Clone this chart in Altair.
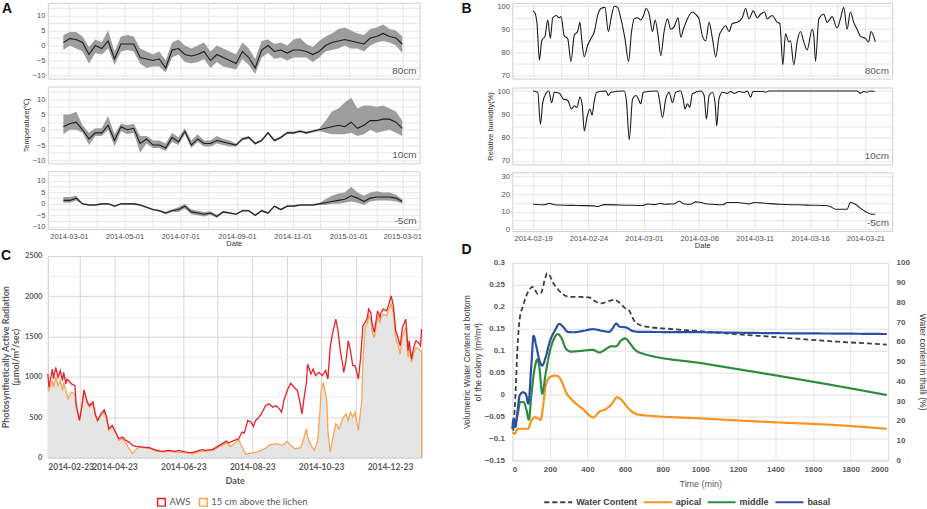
import altair as alt
import pandas as pd

FA = "Liberation Sans"
FC = "Lato"


def dt(y, m, d, h=0):
    return alt.DateTime(year=y, month=m, date=d, hours=h)


# ---------------- Panel A: temperature (weekly samples from 2014-02-23) ----------------
A_START = "2014-02-23"
A1_mean = [1, 2.3, 2, 1, -3, 0, -1, 1.5, -4.5, 0.5, 0.5, 0.5, -4, -4.5, -5, -4.5, -7.5, -1.5, -1, -3,
           -3.5, -3, -2, -5, -3, -4, -5, -6, -2, -4, -7.5, -1.5, 0, -2, -1.5, -2.5, -1.5, -1.5, -2, -3,
           -2, 0, 1, 1.5, 2, 1.5, 1, 0.5, 2.5, 3, 4, 3, 2.5, 0.5]
A1_hi = [3.5, 4.5, 4.5, 3, -0.5, 2, 1, 5, -2, 3, 3.5, 3, -1, -2, -3, -2, -5, 1, 2, 0,
         -1, 0, 1, -2, 0, -1, -2, -3, 1, -1, -4.5, 1.5, 2, 0.5, 1, 0, 2, 2.5, 0.5, -0.5,
         1.5, 3, 4, 5.5, 6, 5, 4, 3.5, 5.5, 6, 7, 5.5, 5, 3]
A1_lo = [-1.5, 0, -1, -2, -6, -2.5, -3, -1, -6.5, -2, -1.5, -2, -6, -7.5, -7, -7, -9, -4, -3, -5.5,
         -6, -5.5, -4.5, -7.5, -5.5, -7, -7.5, -8, -4.5, -6.5, -9.5, -4, -2.5, -4.5, -4, -5, -4, -4, -4, -5.5,
         -4, -2, -1.5, -1, 0, -1, -1, -2, 0, 1, 1.5, 1, 0, -2.5]

A2_mean = [1, 2, 2.5, 0, -3, -1, -1, 1.5, -3.5, 1, 0, 0.5, -4.5, -3, -5, -5, -6, -2.5, -4, -0.5,
           -5, -3, -4.5, -4.5, -3.5, -4, -4.5, -5, -3, -2.5, -4.5, -3.5, -1, -3.5, -2.5, -1, -1, -0.5, -1, -0.5,
           0, 0.5, 1, 1.5, 1, 2.5, 0.5, 1.5, 3, 3, 3.5, 3.5, 2.5, 0.5]
A2_hi = [5, 5, 6, 1.5, -1, 0.5, 0.5, 4.5, -1.5, 2, 1.5, 2, -2, -2, -3.5, -3.5, -4.5, -1, -2.5, 0.5,
         -3.5, -1.5, -3.5, -3.5, -2, -3, -3.5, -4.5, -2.5, -2, -4.1, -3.1, -0.6, -3.1, -2.1, -0.6, -0.6, -0.1, -0.6, -0.1,
         0.4, 3, 6, 7, 9, 10.5, 7, 8, 8, 7.5, 8, 7, 6, 3]
A2_lo = [-1.5, 0, 0, -1, -5, -2, -2, 0, -5.5, -0.5, -1.5, -1, -7.5, -4.5, -6, -6, -7, -4, -5, -1.5,
         -6, -4, -5.5, -5.5, -4.5, -5, -5.5, -5.5, -3.5, -3, -4.9, -3.9, -1.4, -3.9, -2.9, -1.4, -1.4, -0.9, -1.4, -0.9,
         -0.4, -1, -1.5, -1.5, -1.5, -1, -2, -1.5, 0, -1, -0.5, 0, -1, -2]

A3_mean = [1.5, 1.5, 2.5, 0, -0.5, -0.5, 0, 0, -1, 0, 0, 0, -0.5, -1.5, -2.5, -3, -4, -3, -2.5, -1,
           -3.5, -4, -4.5, -4, -5.5, -3.5, -4, -4.5, -3, -3, -5, -3, -4, -1, -2.5, -1, -1, -0.5, -0.5, -0.5,
           0, 0.5, 1, 1.5, 2, 3.5, 2.5, 1, 2.5, 3, 3, 3, 2.5, 1]
A3_hi = [3, 3, 3.5, 0.4, -0.1, -0.1, 0.4, 0.4, -0.6, 0.4, 0.4, 0.4, -0.1, -1.1, -2.1, -2.6, -3.4, -2.4, -1.5, 0,
         -2.5, -3, -3.5, -3.2, -4.8, -3, -3.6, -4.1, -2.6, -2.6, -4.6, -2.6, -3.6, -0.6, -2.1, -0.6, -0.6, -0.1, -0.1, -0.1,
         0.4, 2, 3.5, 4.5, 5, 7.5, 5, 3.5, 5, 5.5, 5, 5, 4, 2]
A3_lo = [0.5, 0.5, 1.5, -0.4, -0.9, -0.9, -0.4, -0.4, -1.4, -0.4, -0.4, -0.4, -0.9, -1.9, -2.9, -3.4, -4.6, -3.6, -3.5, -2,
         -4.5, -5, -5.5, -4.8, -6.2, -4, -4.4, -4.9, -3.4, -3.4, -5.4, -3.4, -4.4, -1.4, -2.9, -1.4, -1.4, -0.9, -0.9, -0.9,
         -0.4, -0.5, 0, 0, 0.5, 1, 0.5, -0.5, 1, 1.5, 1.5, 1.5, 1, 0]

A_LABELS = ["80cm", "10cm", "-5cm"]

# ---------------- Panel B: relative humidity, (days since 2014-02-19, %) ----------------
B_START = "2014-02-19"
B1 = [(0.00, 98), (0.18, 97), (0.36, 92), (0.57, 76.5), (0.78, 85), (1.08, 87), (1.32, 94), (1.56, 86),
      (1.77, 95), (2.07, 96), (2.37, 95), (2.52, 95.5), (2.82, 87), (3.12, 86), (3.42, 76), (3.72, 87.5),
      (4.02, 89), (4.23, 93), (4.38, 86), (4.62, 78), (4.92, 83), (5.23, 86), (5.53, 89), (5.83, 96),
      (6.13, 99), (6.49, 99.5), (6.79, 89), (7.03, 94.5), (7.33, 100), (7.63, 99.5), (7.93, 94.5), (8.29, 86),
      (8.62, 76), (8.89, 89), (9.13, 94.5), (9.43, 95), (9.73, 94), (9.97, 96), (10.21, 99), (10.48, 96.5),
      (10.78, 89), (11.02, 94), (11.29, 87), (11.53, 78.5), (11.83, 89), (12.13, 94.5), (12.43, 90), (12.73, 91),
      (13.09, 95), (13.33, 86.5), (13.57, 90), (13.93, 94.5), (14.38, 97.5), (14.68, 96.5), (14.98, 94.5),
      (15.29, 87), (15.59, 85), (15.89, 93), (16.19, 86), (16.49, 78), (16.79, 87), (17.09, 90), (17.39, 91.5),
      (17.69, 89), (17.99, 92.5), (18.44, 93), (18.89, 95), (19.19, 99), (19.49, 94.5), (19.88, 98), (20.24, 95),
      (20.54, 96.5), (20.90, 97.5), (21.14, 94.5), (21.59, 96), (22.04, 93), (22.28, 92.5), (22.55, 74.5),
      (22.79, 88), (23.09, 84.5), (23.24, 85), (23.54, 74.5), (23.84, 84.5), (24.14, 89), (24.44, 84.5),
      (24.74, 81), (25.20, 90), (25.35, 87), (25.50, 76), (25.80, 94.5), (26.25, 96.5), (26.55, 93), (27.00, 95.5),
      (27.45, 90.5), (27.75, 94.5), (28.05, 99.5), (28.35, 90), (28.65, 97.5), (28.95, 93), (29.25, 90),
      (29.55, 87), (30.00, 86), (30.30, 84.5), (30.51, 89), (30.90, 84.5)]
B2 = [(0, 100), (0.42, 99.5), (0.66, 85.7), (0.87, 95), (1.17, 99), (1.41, 100), (1.68, 95), (1.92, 99.5),
      (2.37, 99), (2.73, 96.6), (3.12, 96), (3.48, 92.3), (3.72, 93.7), (3.96, 93), (4.23, 97.4), (4.44, 93.7),
      (4.62, 82.8), (4.86, 88.6), (5.14, 92.3), (5.32, 89.6), (5.53, 96), (5.74, 99.5), (6.58, 100), (6.79, 98.1),
      (7.03, 99.5), (8.23, 100), (8.44, 95), (8.68, 79.1), (8.98, 96.6), (9.28, 98.1), (9.43, 97.4), (9.73, 94.5),
      (9.94, 99.5), (11.23, 100), (11.44, 95), (11.68, 88.6), (11.98, 96.6), (12.28, 99.5), (12.58, 95),
      (12.88, 99.5), (13.33, 100), (13.54, 96.6), (13.72, 92.3), (13.93, 94.5), (14.14, 93), (14.38, 98.8),
      (15.14, 100), (15.44, 98.1), (15.65, 87.9), (15.89, 98.1), (16.19, 99.5), (16.43, 95), (16.58, 85),
      (16.79, 96.6), (17.09, 99.5), (17.54, 99), (17.84, 99.8), (18.14, 99), (18.59, 99.8), (19.04, 99.4),
      (19.34, 100), (19.64, 97.4), (19.85, 99.8), (20.69, 99.8), (20.99, 99.5), (21.29, 100), (29.25, 100),
      (29.55, 99), (29.85, 99.8), (30.15, 99.5), (30.45, 100), (30.84, 99.8)]
B3 = [(0, 14.2), (1.02, 13.9), (1.47, 14.8), (1.92, 13.9), (4.02, 13.5), (5.53, 13.3), (5.83, 12.9), (6.43, 14),
      (8.53, 13.7), (9.88, 13.5), (10.33, 14.4), (10.93, 14), (11.53, 14.8), (11.83, 14.2), (12.43, 14.4),
      (12.73, 14.4), (13.18, 15.9), (13.63, 14.4), (14.23, 14.2), (14.68, 15.6), (15.14, 15.2), (15.74, 14.4),
      (16.64, 14), (17.09, 13.9), (17.54, 15.2), (18.44, 15.2), (19.04, 14.8), (19.49, 14.4), (19.94, 15.2),
      (20.54, 15), (20.99, 14.8), (22.34, 14.2), (23.84, 13.9), (25.05, 13.7), (26.25, 13.5), (26.85, 12.9),
      (27.30, 11.4), (28.35, 11.4), (28.65, 15.2), (29.10, 14.2), (29.55, 12), (30.00, 10.1), (30.45, 8.7),
      (30.90, 8.5)]

# ---------------- Panel C: PAR (days since 2014-02-23, umol/m2/s) ----------------
C_START = "2014-02-23"
C_AWS = [(0, 1035), (1, 870), (4, 1097), (5, 973), (7, 1118), (9, 994), (11, 1077), (13, 953), (14, 1056),
         (16, 912), (17, 973), (21, 912), (24, 891), (25, 664), (28, 458), (30, 623), (32, 837), (35, 685),
         (37, 644), (40, 685), (42, 540), (44, 458), (47, 540), (50, 590), (52, 499), (54, 355), (57, 396),
         (60, 314), (63, 231), (66, 252), (69, 210), (72, 190), (75, 149), (78, 136), (84, 128), (90, 120),
         (96, 87), (102, 74), (107, 87), (113, 74), (116, 87), (122, 66), (128, 58), (134, 87), (137, 95),
         (140, 87), (146, 99), (152, 149), (158, 202), (160, 177), (165, 210), (169, 231), (172, 314), (174, 301),
         (177, 458), (180, 437), (182, 384), (184, 458), (187, 499), (189, 540), (193, 644), (196, 664), (199, 623),
         (202, 644), (205, 602), (207, 561), (209, 705), (212, 829), (215, 920), (218, 871), (221, 829), (223, 705),
         (225, 540), (227, 747), (229, 932), (230, 1159), (233, 1035), (235, 1097), (237, 1015), (240, 1056),
         (243, 1015), (246, 1077), (248, 973), (250, 1365), (252, 1530), (255, 1716), (257, 1572), (259, 1324),
         (261, 1159), (262, 1056), (264, 1200), (266, 1448), (268, 1324), (270, 1139), (272, 1139), (275, 973),
         (277, 1242), (279, 1634), (281, 1675), (283, 1737), (284, 1840), (286, 1798), (287, 1675), (289, 1551),
         (292, 1819), (294, 1737), (295, 1798), (297, 1840), (300, 1819), (302, 1902), (304, 2005), (306, 1881),
         (308, 1572), (310, 1489), (312, 1386), (314, 1613), (317, 1716), (319, 1324), (320, 1448), (322, 1221),
         (324, 1365), (326, 1448), (328, 1427), (330, 1386), (331, 1592)]
C_LICHEN = [(0, 870), (1, 829), (4, 953), (5, 870), (7, 994), (9, 891), (11, 953), (13, 829), (14, 932),
            (16, 829), (18, 726), (21, 808), (24, 788), (25, 623), (28, 458), (30, 623), (32, 829), (35, 664),
            (37, 623), (40, 664), (42, 520), (44, 450), (47, 520), (50, 561), (52, 478), (54, 334), (57, 396),
            (60, 301), (63, 210), (66, 231), (69, 177), (72, 107), (75, 45), (78, 99), (81, 136), (84, 120),
            (90, 107), (96, 78), (102, 66), (107, 78), (113, 66), (122, 58), (128, 45), (134, 74), (140, 74),
            (146, 87), (152, 136), (158, 177), (162, 136), (165, 169), (169, 219), (172, 128), (175, 37), (181, 54),
            (187, 74), (193, 116), (197, 157), (202, 169), (208, 149), (212, 198), (215, 149), (219, 107), (224, 120),
            (227, 252), (229, 355), (230, 252), (233, 149), (236, 87), (239, 210), (241, 582), (242, 829), (244, 932),
            (247, 705), (248, 334), (250, 66), (252, 210), (255, 417), (258, 355), (261, 478), (264, 540), (266, 458),
            (268, 561), (270, 499), (272, 561), (275, 334), (278, 705), (279, 1200), (281, 1613), (283, 1675),
            (284, 1757), (286, 1716), (287, 1572), (289, 1489), (292, 1737), (294, 1675), (295, 1737), (297, 1778),
            (300, 1757), (302, 1840), (304, 1902), (306, 1798), (308, 1489), (310, 1407), (312, 1283), (314, 1510),
            (317, 1613), (319, 1242), (320, 1365), (322, 1180), (324, 1304), (326, 1365), (328, 1345), (330, 1324),
            (331, 1316), (331, 0)]
C_SERIES = ["AWS", "15 cm above the lichen"]
C_COLORS = ["#e8202a", "#f7a556"]

# ---------------- Panel D: water content (minutes) ----------------
D_WC = [(5, 15), (7, 17.7), (18, 36.2), (27, 56.4), (39, 71.5), (57, 78.3), (74, 83.3), (92, 86.7), (106, 87.9),
        (118, 86.7), (136, 84.2), (154, 85), (171, 90.9), (186, 94.8), (198, 93.8), (216, 90.1), (242, 86.7),
        (269, 84.2), (304, 82.8), (357, 82.8), (410, 82.5), (437, 80.8), (472, 79.5), (516, 80.8), (543, 81.3),
        (569, 80), (596, 77.4), (622, 75.8), (649, 70.7), (675, 68.7), (711, 67.8), (852, 66.5), (1029, 65.2),
        (1206, 63.8), (1383, 62.6), (1559, 61.3), (1736, 60.1), (1913, 59.1), (1993, 58.6)]
D_APICAL = [(0, -0.086), (12, -0.089), (30, -0.078), (57, -0.078), (83, -0.078), (101, -0.059), (118, -0.052),
            (136, -0.054), (150, -0.058), (163, -0.029), (177, 0.02), (198, 0.039), (225, 0.043), (242, 0.042),
            (260, 0.032), (286, 0.005), (322, -0.014), (375, -0.033), (431, -0.052), (463, -0.039), (499, -0.033),
            (530, -0.021), (557, -0.006), (578, -0.011), (605, -0.025), (640, -0.04), (675, -0.046), (1029, -0.055),
            (1383, -0.063), (1736, -0.07), (1993, -0.078)]
D_MIDDLE = [(0, -0.078), (12, -0.07), (27, -0.048), (42, -0.017), (60, -0.017), (74, -0.033), (88, -0.057),
            (101, -0.002), (118, 0.058), (133, 0.08), (145, 0.058), (159, 0.002), (177, 0.047), (198, 0.096),
            (225, 0.13), (242, 0.138), (260, 0.13), (286, 0.104), (313, 0.098), (375, 0.1), (428, 0.102),
            (463, 0.096), (499, 0.104), (525, 0.11), (552, 0.11), (578, 0.123), (601, 0.128), (622, 0.119),
            (649, 0.104), (675, 0.096), (1029, 0.07), (1383, 0.045), (1736, 0.019), (1993, -0.001)]
D_BASAL = [(0, -0.078), (7, -0.055), (16, -0.074), (27, -0.04), (39, -0.002), (57, 0.005), (71, 0.002),
           (85, -0.021), (101, 0.066), (113, 0.134), (127, 0.111), (145, 0.077), (159, 0.066), (177, 0.085),
           (198, 0.119), (225, 0.145), (251, 0.161), (269, 0.155), (295, 0.143), (322, 0.142), (375, 0.145),
           (428, 0.149), (481, 0.145), (516, 0.143), (537, 0.153), (552, 0.162), (569, 0.155), (605, 0.153),
           (640, 0.145), (675, 0.143), (1029, 0.142), (1383, 0.14), (1736, 0.139), (1993, 0.138)]
D_SERIES = ["Water Content", "apical", "middle", "basal"]
D_COLORS = ["#404040", "#f7931e", "#2e8b3e", "#2c4ea5"]
D_DASH = [[5, 3], [1, 0], [1, 0], [1, 0]]

# ---------------- helpers ----------------
GRID = "#e6e6e6"
LAB = "#4d4d4d"


def letter(ch, x, y):
    return alt.Chart(pd.DataFrame({"t": [ch]})).mark_text(
        align="left", baseline="middle", font=FA, fontSize=14, fontWeight="bold", color="#111111"
    ).encode(x=alt.value(x), y=alt.value(y), text="t:N")


def tag(label, w, h):
    return alt.Chart(pd.DataFrame({"t": [label]})).mark_text(
        align="right", baseline="alphabetic", font=FA, fontSize=10, color="#5a5a5a"
    ).encode(x=alt.value(w - 3), y=alt.value(h - 5), text="t:N")


def x_axis_time(ticks, expr, bottom):
    if bottom:
        return alt.Axis(values=ticks, labelExpr=expr, ticks=False, domain=False, grid=True, gridColor=GRID,
                        labelFont=FA, labelFontSize=7.5, labelColor=LAB, labelPadding=3, labelOverlap=False,
                        title="Date", titleFont=FA, titleFontSize=7.5, titleFontWeight="normal",
                        titleColor="#333333", titlePadding=0)
    return alt.Axis(values=ticks, labels=False, ticks=True, tickSize=6, tickColor="transparent", domain=False,
                    grid=True, gridColor=GRID, title=None)


def y_axis(vals, expr, title):
    kw = dict(values=vals, labelExpr=expr, ticks=False, domain=False, grid=True, gridColor=GRID,
              labelFont=FA, labelFontSize=7.5, labelColor=LAB, labelPadding=3)
    if title:
        kw.update(title=title, titleFont=FA, titleFontSize=7.5, titleFontWeight="normal",
                  titleColor="#333333", titlePadding=2)
    else:
        kw.update(title=None)
    return alt.Axis(**kw)


# ---------------- A ----------------
A_W = 373
A_dates = pd.date_range(A_START, periods=len(A1_mean), freq="7D")
A_DOM = [dt(2014, 2, 6), dt(2015, 3, 20)]
A_TICKS = [dt(2014, m, 1) for m in range(3, 13)] + [dt(2015, m, 1) for m in (1, 2, 3)]
A_EXPR = "month(datum.value) % 2 == 0 ? timeFormat(datum.value, '%Y-%m-%d') : ''"
A_YVALS = [-10, -7.5, -5, -2.5, 0, 2.5, 5, 7.5, 10, 12.5]


def a_panel(mean, lo, hi, label, h, bottom, ytitle=None, extra=()):
    df = pd.DataFrame({"date": A_dates, "m": mean, "lo": lo, "hi": hi})
    x = alt.X("date:T", scale=alt.Scale(domain=A_DOM), axis=x_axis_time(A_TICKS, A_EXPR, bottom))
    ysc = alt.Scale(domain=[-11, 14.2], nice=False, zero=False)
    yax = y_axis(A_YVALS, "datum.value % 5 == 0 ? datum.label : ''", ytitle)
    band = alt.Chart(df).mark_area(color="#9d9d9d").encode(x=x, y=alt.Y("lo:Q", scale=ysc, axis=yax), y2="hi:Q")
    line = alt.Chart(df).mark_line(color="#1c1c1c", strokeWidth=1.1).encode(
        x=x, y=alt.Y("m:Q", scale=ysc, axis=yax))
    return alt.layer(band, line, tag(label, A_W, h), *extra).properties(width=A_W, height=h)


A1 = a_panel(A1_mean, A1_lo, A1_hi, A_LABELS[0], 76, False, extra=[letter("A", -46, 6.5)])
A2 = a_panel(A2_mean, A2_lo, A2_hi, A_LABELS[1], 77, False, ytitle="Temperature(℃)")
A3 = a_panel(A3_mean, A3_lo, A3_hi, A_LABELS[2], 58, True)

# ---------------- B ----------------
B_W = 381
B0 = pd.Timestamp(B_START)
B_DOM = [dt(2014, 2, 17, 3), dt(2014, 3, 23, 10)]
B_TICKS = [dt(2014, 2, 19), dt(2014, 2, 21, 12), dt(2014, 2, 24), dt(2014, 2, 26, 12), dt(2014, 3, 1),
           dt(2014, 3, 3, 12), dt(2014, 3, 6), dt(2014, 3, 8, 12), dt(2014, 3, 11), dt(2014, 3, 13, 12),
           dt(2014, 3, 16), dt(2014, 3, 18, 12), dt(2014, 3, 21)]
B_EXPR = "hours(datum.value) == 0 ? timeFormat(datum.value, '%Y-%m-%d') : ''"


def b_panel(pairs, label, h, ydom, yvals, yexpr, bottom, ytitle=None, extra=()):
    df = pd.DataFrame(pairs, columns=["d", "v"])
    df["t"] = B0 + pd.to_timedelta(df["d"], unit="D")
    x = alt.X("t:T", scale=alt.Scale(domain=B_DOM), axis=x_axis_time(B_TICKS, B_EXPR, bottom))
    y = alt.Y("v:Q", scale=alt.Scale(domain=ydom, nice=False, zero=False), axis=y_axis(yvals, yexpr, ytitle))
    line = alt.Chart(df).mark_line(color="#1c1c1c", strokeWidth=1.1, interpolate="monotone").encode(x=x, y=y)
    return alt.layer(line, tag(label, B_W, h), *extra).properties(width=B_W, height=h)


RH_VALS = [70, 75, 80, 85, 90, 95, 100]
RH_EXPR = "datum.value % 10 == 0 ? datum.label : ''"
B1c = b_panel(B1, "80cm", 76, [68.5, 101.5], RH_VALS, RH_EXPR, False, extra=[letter("B", -51, 6)])
B2c = b_panel(B2, "10cm", 77, [68.5, 101.5], RH_VALS, RH_EXPR, False, ytitle="Relative humidity(%)")
B3c = b_panel(B3, "-5cm", 59, [-1.1, 32.5], [0, 5, 10, 15, 20, 25, 30], RH_EXPR, True,
              extra=[letter("D", -51, 78)])

# ---------------- C ----------------
C_W, C_H = 375, 202
C0 = pd.Timestamp(C_START)


def c_df(pairs, name):
    df = pd.DataFrame(pairs, columns=["d", "v"])
    df["t"] = C0 + pd.to_timedelta(df["d"], unit="D")
    df["s"] = name
    df["i"] = range(len(df))
    return df


df_aws = c_df(C_AWS, C_SERIES[0])
df_lic = c_df(C_LICHEN, C_SERIES[1])
C_TICKS = [dt(2014, m, 23) for m in range(2, 13)]
cx = alt.X("t:T", scale=alt.Scale(domain=[dt(2014, 2, 23), dt(2015, 1, 20)]),
           axis=alt.Axis(values=C_TICKS,
                         labelExpr="month(datum.value) % 2 == 1 ? timeFormat(datum.value, '%Y-%m-%d') : ''",
                         ticks=False, domain=True, domainColor="#d0d0d0", grid=True, gridColor="#d6d6d6",
                         labelFont=FC, labelFontSize=8.5, labelFontWeight="bold", labelColor="#595959",
                         labelPadding=5, labelOverlap=False, title="Date", titleFont=FC, titleFontSize=9,
                         titleFontWeight="bold", titleColor="#595959", titlePadding=6))
cy_scale = alt.Scale(domain=[0, 2500], nice=False)
cy_axis = alt.Axis(values=list(range(0, 2501, 250)), format="d",
                   labelExpr="datum.value % 500 == 0 ? datum.label : ''", ticks=False, domain=False,
                   grid=True,
                   gridColor={"condition": {"test": "datum.value % 500 === 0", "value": "#d6d6d6"},
                              "value": "#ededed"},
                   labelFont=FC, labelFontSize=7.5, labelFontWeight="bold", labelColor="#595959", labelPadding=6,
                   title=["Photosynthetically Active Radiation", "(µmol/m²/sec)"], titleFont=FC,
                   titleFontSize=9, titleFontWeight="bold", titleColor="#595959", titlePadding=4,
                   titleLineHeight=10)
c_color = alt.Color("s:N", scale=alt.Scale(domain=C_SERIES, range=C_COLORS),
                    legend=alt.Legend(orient="none", legendX=109, legendY=242, direction="horizontal",
                                      title=None, symbolType="square", symbolSize=60, symbolStrokeWidth=1.5,
                                      labelFont=FC, labelFontSize=9.5, labelColor="#595959",
                                      columnPadding=6, labelOffset=3))
c_area = alt.Chart(df_lic).mark_area(color="#e5e5e5").encode(
    x=cx, y=alt.Y("v:Q", scale=cy_scale, axis=cy_axis))
c_lic = alt.Chart(df_lic).mark_line(strokeWidth=1.3).encode(
    x=cx, y=alt.Y("v:Q", scale=cy_scale, axis=cy_axis), color=c_color, order="i:Q")
c_aws = alt.Chart(df_aws).mark_line(strokeWidth=1.3).encode(
    x=cx, y=alt.Y("v:Q", scale=cy_scale, axis=cy_axis), color=c_color, order="i:Q")
Cc = alt.layer(c_area, c_lic, c_aws, letter("C", -47, 0)).properties(width=C_W, height=C_H)

# ---------------- D ----------------
D_W, D_H = 377, 198


def d_df(pairs, name):
    df = pd.DataFrame(pairs, columns=["m", "v"])
    df["s"] = name
    return df


d_leg = alt.Legend(orient="none", legendX=31, legendY=225, direction="horizontal", title=None,
                   symbolType="stroke", symbolSize=784, symbolStrokeWidth=2, labelFont=FA, labelFontSize=9,
                   labelFontWeight="bold", labelColor="#404040", columnPadding=2, labelOffset=3)
d_color = alt.Color("s:N", scale=alt.Scale(domain=D_SERIES, range=D_COLORS), legend=d_leg)
d_dash = alt.StrokeDash("s:N", scale=alt.Scale(domain=D_SERIES, range=D_DASH), legend=d_leg)
dx = alt.X("m:Q", scale=alt.Scale(domain=[0, 2000], nice=False),
           axis=alt.Axis(values=list(range(0, 2001, 200)), format="d", ticks=False, domain=False, grid=True,
                         gridColor="#e6e6e6", labelFont=FA, labelFontSize=8, labelFontWeight="bold",
                         labelColor="#595959", labelPadding=5, title="Time (min)", titleFont=FA,
                         titleFontSize=9, titleFontWeight="normal", titleColor="#595959", titlePadding=6))
dyL = alt.Y("v:Q", scale=alt.Scale(domain=[-0.15, 0.3], nice=False, zero=False),
            axis=alt.Axis(values=[-0.15, -0.1, -0.05, 0, 0.05, 0.1, 0.15, 0.2, 0.25, 0.3], format="~g",
                          ticks=False, domain=False, grid=True, gridColor="#e0e0e0", labelFont=FA,
                          labelFontSize=8, labelFontWeight="bold", labelColor="#595959", labelPadding=8,
                          title=["Volumetric Water Content  at bottom", "of the colony (m³/m³)"],
                          titleFont=FA, titleFontSize=8.5, titleFontWeight="normal", titleColor="#404040",
                          titlePadding=2, titleLineHeight=11))
dyR = alt.Y("v:Q", scale=alt.Scale(domain=[0, 100], nice=False, zero=False),
            axis=alt.Axis(orient="right", values=list(range(0, 101, 10)), ticks=False, domain=False, grid=False,
                          labelFont=FA, labelFontSize=8, labelFontWeight="bold", labelColor="#595959",
                          labelPadding=8, title="Water content in thalli (%)", titleFont=FA, titleFontSize=8.5,
                          titleFontWeight="normal", titleColor="#404040", titlePadding=8))

d_wc = alt.Chart(d_df(D_WC, D_SERIES[0])).mark_line(strokeWidth=1.8, interpolate="monotone").encode(
    x=dx, y=dyR, color=d_color, strokeDash=d_dash)
d_sens = alt.layer(*[
    alt.Chart(d_df(p, n)).mark_line(strokeWidth=2.2, interpolate="monotone").encode(
        x=dx, y=dyL, color=d_color, strokeDash=d_dash)
    for p, n in [(D_APICAL, "apical"), (D_MIDDLE, "middle"), (D_BASAL, "basal")]
])
Dc = alt.layer(d_wc, d_sens).resolve_scale(y="independent").properties(width=D_W, height=D_H)

# ---------------- assemble ----------------
left = alt.vconcat(A1, A2, A3, Cc, spacing=0).resolve_scale(color="independent", strokeDash="independent")
right = alt.vconcat(B1c, B2c, B3c, Dc, spacing=0).resolve_scale(color="independent", strokeDash="independent")
chart = alt.hconcat(left, right, spacing=35).resolve_scale(
    color="independent", strokeDash="independent"
).resolve_legend(color="independent", strokeDash="independent").properties(
    padding={"left": 0, "top": 0, "right": 0, "bottom": 0}
).configure(font=FA).configure_view(stroke="#cfcfcf", strokeWidth=1)

chart.save("out.html", embed_options={"renderer": "svg", "actions": False})
